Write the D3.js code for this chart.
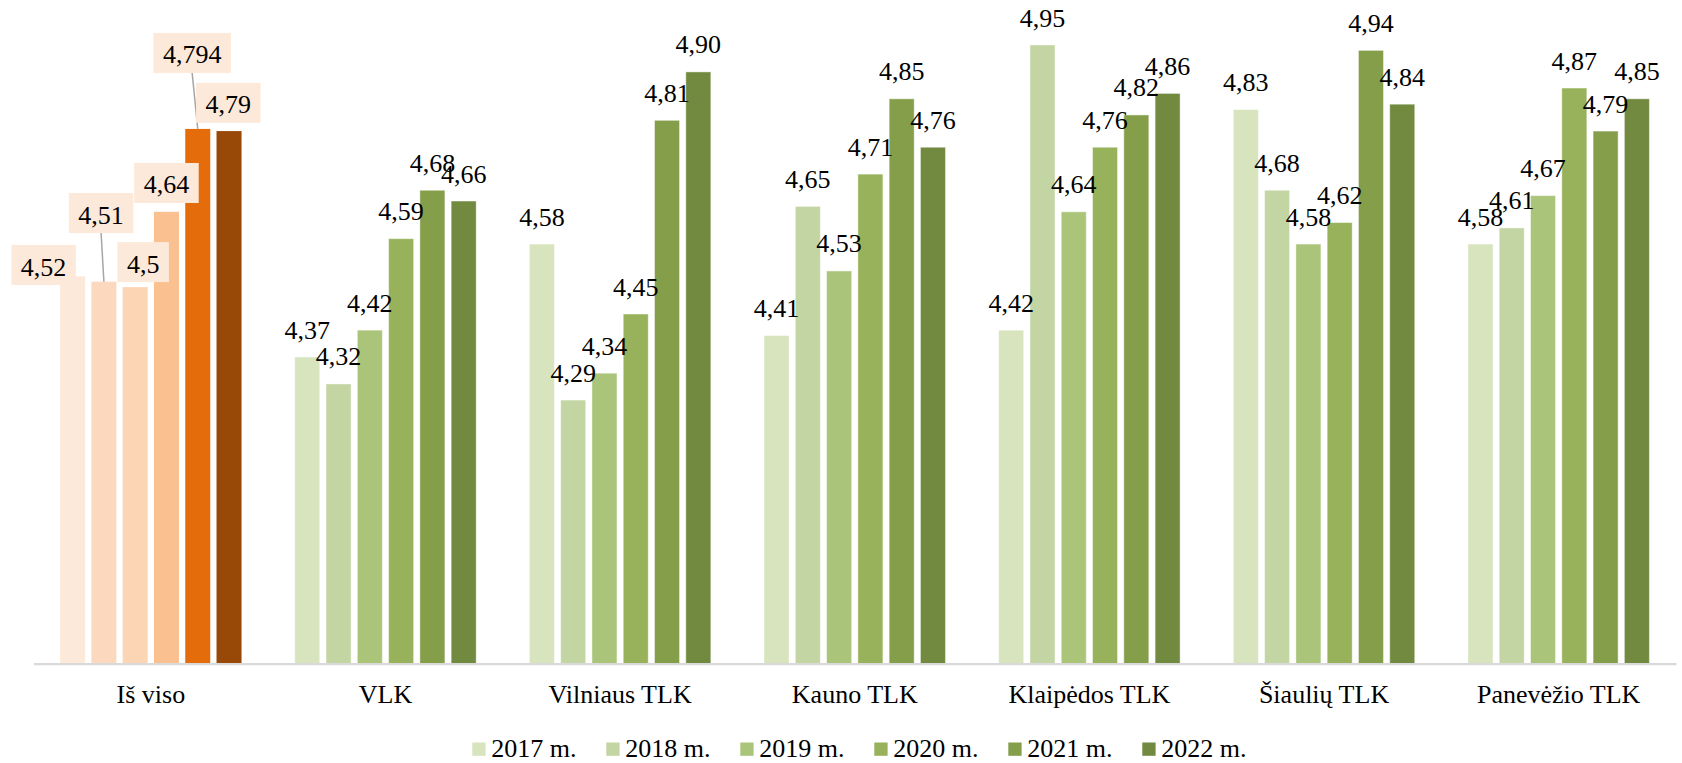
<!DOCTYPE html>
<html>
<head>
<meta charset="utf-8">
<script src="https://cdn.jsdelivr.net/npm/d3@7"></script>
<style>
  html, body { margin: 0; padding: 0; background: #ffffff; }
  svg { display: block; font-family: "Liberation Serif", "Times New Roman", serif; }
</style>
</head>
<body>
<svg id="chart" width="1682" height="763"></svg>
<script>
// ---- data ----
const categories = ["Iš viso", "VLK", "Vilniaus TLK", "Kauno TLK", "Klaipėdos TLK", "Šiaulių TLK", "Panevėžio TLK"];
const years = ["2017 m.", "2018 m.", "2019 m.", "2020 m.", "2021 m.", "2022 m."];
const values2017 = [4.52, 4.37, 4.58, 4.41, 4.42, 4.83, 4.58];
const values2018 = [4.51, 4.32, 4.29, 4.65, 4.95, 4.68, 4.61];
const values2019 = [4.5, 4.42, 4.34, 4.53, 4.64, 4.58, 4.67];
const values2020 = [4.64, 4.59, 4.45, 4.71, 4.76, 4.62, 4.87];
const values2021 = [4.794, 4.68, 4.81, 4.85, 4.82, 4.94, 4.79];
const values2022 = [4.79, 4.66, 4.90, 4.76, 4.86, 4.84, 4.85];
const seriesValues = [values2017, values2018, values2019, values2020, values2021, values2022];
const totalLabels = ["4,52", "4,51", "4,5", "4,64", "4,794", "4,79"];
const yDomain = [3.8, 5.0];

// ---- styles / layout ----
const greenColors = ["#d7e4bd", "#c3d5a2", "#aac47a", "#97b25a", "#849e4a", "#728940"];
const orangeColors = ["#fde9d9", "#fcd9be", "#fcd5b4", "#fac090", "#e46c0a", "#984807"];
const calloutFill = "#fde9d9";
// manual callout placement for "Iš viso" labels (box centre relative to bar top centre)
const calloutLayout = [
  { dx: -29, dy: -11.3, leader: false },
  { dx: -2.8, dy: -68.7, leader: true },
  { dx: 8, dy: -25, leader: false },
  { dx: 0, dy: -28.8, leader: false },
  { dx: -5.6, dy: -76, leader: true },
  { dx: -0.7, dy: -28.3, leader: false }
];
const fontSize = 26;

const svg = d3.select("#chart");

const x = d3.scaleBand().domain(categories).range([33.5, 1676]).padding(0);
const xInner = d3.scaleBand().domain(years)
  .range([-93.85, 93.85]).paddingInner(0.2).paddingOuter(0.1);
const y = d3.scaleLinear().domain(yDomain).range([663.7, 18.1]);

const fmt = (v, ci, si) => ci === 0 ? totalLabels[si] : v.toFixed(2).replace(".", ",");

// flat mark data
const marks = [];
categories.forEach((c, ci) => {
  years.forEach((yr, si) => {
    marks.push({ c, ci, yr, si, v: seriesValues[si][ci] });
  });
});
const barX = d => x(d.c) + x.bandwidth() / 2 + xInner(d.yr);
const barCx = d => barX(d) + xInner.bandwidth() / 2;

// bars
svg.append("g").selectAll("rect").data(marks).join("rect")
  .attr("x", barX)
  .attr("y", d => y(d.v))
  .attr("width", xInner.bandwidth())
  .attr("height", d => y(yDomain[0]) - y(d.v))
  .attr("fill", d => d.ci === 0 ? orangeColors[d.si] : greenColors[d.si])
  .attr("stroke", d => d.ci === 0 ? "none" : "#ffffff")
  .attr("stroke-opacity", 0.45)
  .attr("stroke-width", 1);

// axis
const axis = svg.append("g")
  .attr("transform", `translate(0,${y(yDomain[0])})`)
  .call(d3.axisBottom(x).tickSize(0).tickSizeOuter(0).tickPadding(21));
axis.select(".domain").attr("stroke", "#d9d9d9").attr("stroke-width", 2.2);
axis.selectAll("text")
  .attr("font-family", "'Liberation Serif', 'Times New Roman', serif")
  .attr("font-size", fontSize)
  .attr("fill", "#000");

// default labels (green groups)
const labelG = svg.append("g")
  .attr("font-size", fontSize).attr("fill", "#000").attr("text-anchor", "middle");
labelG.selectAll("text").data(marks.filter(d => d.ci !== 0)).join("text")
  .attr("x", barCx)
  .attr("y", d => y(d.v) - 18.5)
  .text(d => fmt(d.v, d.ci, d.si));

// callout labels for "Iš viso"
const callouts = marks.filter(d => d.ci === 0);
const cg = svg.append("g");
callouts.forEach(d => {
  const lay = calloutLayout[d.si];
  const cx = barCx(d) + lay.dx;
  const cy = y(d.v) + lay.dy;
  const t = cg.append("text")
    .attr("x", cx).attr("y", cy + 10.5)
    .attr("text-anchor", "middle")
    .attr("font-size", fontSize).attr("fill", "#000")
    .text(fmt(d.v, d.ci, d.si));
  const w = t.node().getComputedTextLength() + 19;
  if (lay.leader) {
    cg.insert("line", "text")
      .attr("x1", cx).attr("y1", cy + 20)
      .attr("x2", barCx(d)).attr("y2", y(d.v))
      .attr("stroke", "#a6a6a6").attr("stroke-width", 1.5);
  }
  cg.insert("rect", "text")
    .attr("x", cx - w / 2).attr("y", cy - 20)
    .attr("width", w).attr("height", 40)
    .attr("fill", calloutFill);
});

// legend
const legendStart = 472.3, legendPitch = 134;
const lg = svg.append("g").attr("transform", "translate(0,742.5)");
const items = lg.selectAll("g").data(years).join("g")
  .attr("transform", (d, i) => `translate(${legendStart + i * legendPitch},0)`);
items.append("rect").attr("width", 13.3).attr("height", 13.3)
  .attr("fill", (d, i) => greenColors[i]);
items.append("text").attr("x", 19).attr("y", 14.5)
  .attr("font-size", fontSize).attr("fill", "#000")
  .text(d => d);
</script>
</body>
</html>
